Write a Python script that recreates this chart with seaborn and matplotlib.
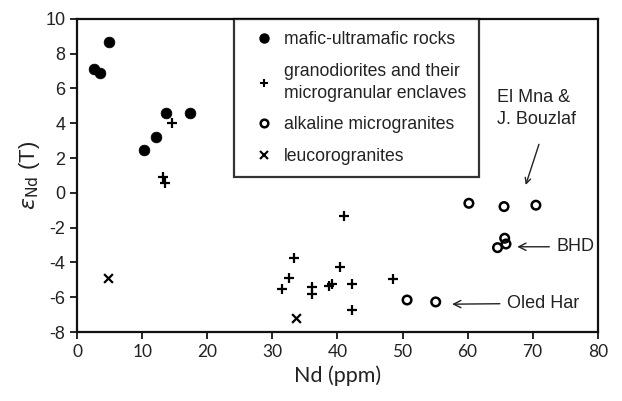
import matplotlib
matplotlib.use("Agg")
import matplotlib.pyplot as plt
from matplotlib.lines import Line2D
import seaborn as sns
import pandas as pd

# ---- data ----
mafic_nd = [2.6, 3.5, 4.85, 10.3, 12.1, 13.7, 17.3]
mafic_eps = [7.1, 6.9, 8.66, 2.49, 3.23, 4.56, 4.58]

grano_nd = [14.6, 13.2, 13.5, 41.0, 33.3, 40.4, 32.6, 31.5, 36.1, 36.1, 38.7, 39.1, 42.2, 42.2, 48.5]
grano_eps = [4.02, 0.93, 0.55, -1.33, -3.74, -4.24, -4.89, -5.53, -5.43, -5.83, -5.33, -5.24, -5.24, -6.73, -4.93]

alk_nd = [50.7, 55.1, 60.2, 65.6, 70.5, 65.7, 65.9, 64.6]
alk_eps = [-6.16, -6.27, -0.6, -0.79, -0.71, -2.61, -2.94, -3.15]

leuco_nd = [4.8, 33.7]
leuco_eps = [-4.91, -7.21]

series_labels = ["mafic-ultramafic rocks",
                 "granodiorites and their\nmicrogranular enclaves",
                 "alkaline microgranites",
                 "leucorogranites"]
x_ticks = [0, 10, 20, 30, 40, 50, 60, 70, 80]
y_ticks = [10, 8, 6, 4, 2, 0, -2, -4, -6, -8]

sns.set_style("ticks")
plt.rcParams['font.family'] = ['Liberation Sans', 'DejaVu Sans']

fig = plt.figure(figsize=(6.22, 4.01), dpi=100)
ax = fig.add_axes([0.124, 0.172, 0.837, 0.781])

df_m = pd.DataFrame({"nd": mafic_nd, "eps": mafic_eps})
df_g = pd.DataFrame({"nd": grano_nd, "eps": grano_eps})
df_a = pd.DataFrame({"nd": alk_nd, "eps": alk_eps})
df_l = pd.DataFrame({"nd": leuco_nd, "eps": leuco_eps})

sns.scatterplot(data=df_m, x="nd", y="eps", ax=ax, marker="o", s=60,
                color="black", edgecolor="black", linewidth=0.5, zorder=3)
sns.scatterplot(data=df_g, x="nd", y="eps", ax=ax, marker="+", s=60,
                color="black", linewidth=1.6, zorder=3)
sns.scatterplot(data=df_a, x="nd", y="eps", ax=ax, marker="o", s=38,
                facecolors="none", edgecolor="black", linewidth=1.8, zorder=3)
sns.scatterplot(data=df_l, x="nd", y="eps", ax=ax, marker="x", s=40,
                color="black", linewidth=1.6, zorder=3)

ax.set_xlim(0, 80)
ax.set_ylim(-8, 10)
ax.set_xticks(x_ticks)
ax.set_yticks(y_ticks)
ax.set_xticklabels([str(t) for t in x_ticks], fontfamily="Lato", fontsize=12.5, color="#222222")
ax.set_yticklabels([str(t) for t in y_ticks], fontsize=13, color="#222222")
ax.tick_params(axis="both", direction="out", length=5, width=1.2, color="black")
for sp in ax.spines.values():
    sp.set_visible(True)
    sp.set_linewidth(1.6)
    sp.set_color("#111111")

ax.set_xlabel("Nd (ppm)", fontfamily="Lato", fontsize=15.5, color="#222222", labelpad=4)
ax.set_ylabel(r"$\varepsilon_{\mathrm{Nd}}$ (T)", fontsize=16, color="#222222", labelpad=2)

# legend
handles = [
    Line2D([], [], marker="o", linestyle="none", color="black", markersize=6.5),
    Line2D([], [], marker="+", linestyle="none", color="black", markersize=6, markeredgewidth=1.5),
    Line2D([], [], marker="o", linestyle="none", markerfacecolor="none", markeredgecolor="black",
           markersize=5.5, markeredgewidth=1.8),
    Line2D([], [], marker="x", linestyle="none", color="black", markersize=5.5, markeredgewidth=1.5),
]
leg = ax.legend(handles, series_labels, loc="upper left", bbox_to_anchor=(0.301, 1.0),
                fontsize=12.7, frameon=True, fancybox=False, labelspacing=0.82,
                handlelength=2.05, handletextpad=0.1, borderpad=0.7, borderaxespad=0)
leg.get_frame().set_edgecolor("black")
leg.get_frame().set_linewidth(1.6)
for t in leg.get_texts():
    t.set_color("#222222")
    t.set_linespacing(1.4)

# annotations
arrow = dict(arrowstyle="->", color="#222222", lw=1.0)
ax.text(64.5, 4.85, "El Mna &\nJ. Bouzlaf", fontsize=13, ha="left", va="center",
        color="#222222", linespacing=1.45)
ax.annotate("", xy=(68.8, 0.3), xytext=(71.1, 2.94), arrowprops=arrow)
ax.annotate("BHD", xy=(67.2, -3.1), xytext=(73.7, -3.1), fontsize=13, va="center",
            ha="left", color="#222222",
            arrowprops=dict(arrowstyle="->", color="#222222", lw=1.0, shrinkA=3))
ax.annotate("Oled Har", xy=(57.2, -6.4), xytext=(66.1, -6.35), fontsize=13, va="center",
            ha="left", color="#222222",
            arrowprops=dict(arrowstyle="->", color="#222222", lw=1.0, shrinkA=3))

fig.savefig("out.png", dpi=100)
